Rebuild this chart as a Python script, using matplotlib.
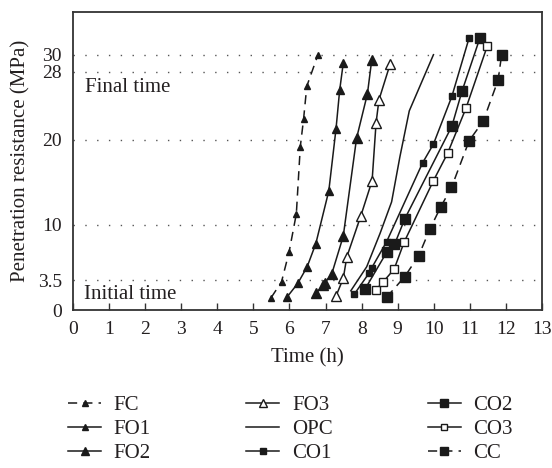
import matplotlib.pyplot as plt

plt.rcParams['font.family'] = ['Liberation Serif', 'DejaVu Serif']
color_txt = '#231f20'

# Datos (tiempo en h, resistencia en MPa)
fc_t = [5.49, 5.78, 5.99, 6.19, 6.30, 6.39, 6.48, 6.79]
fc_r = [1.44, 3.32, 6.83, 11.3, 19.2, 22.4, 26.3, 30.0]

fo1_t = [5.94, 6.23, 6.49, 6.73, 7.09, 7.29, 7.39, 7.49]
fo1_r = [1.56, 3.13, 5.08, 7.8, 14.0, 21.3, 25.8, 29.0]

fo2_t = [6.73, 6.94, 6.98, 7.17, 7.49, 7.86, 8.16, 8.28]
fo2_r = [1.95, 2.93, 3.2, 4.22, 8.67, 20.2, 25.4, 29.4]

fo3_t = [7.29, 7.49, 7.59, 7.98, 8.29, 8.40, 8.48, 8.79]
fo3_r = [1.64, 3.71, 6.25, 11.1, 15.2, 22.0, 24.7, 28.9]

opc_t = [7.70, 8.14, 8.51, 8.83, 9.06, 9.32, 9.99]
opc_r = [2.26, 5.08, 9.0, 12.7, 18.0, 23.4, 30.0]

co1_t = [7.80, 8.20, 8.28, 8.69, 9.69, 9.99, 10.50, 10.98]
co1_r = [1.88, 4.30, 4.96, 8.01, 17.3, 19.5, 25.1, 32.0]

co2_t = [8.09, 8.69, 8.91, 9.20, 10.50, 10.78, 11.28]
co2_r = [2.43, 6.76, 7.70, 10.75, 21.6, 25.7, 32.0]

co3_t = [8.39, 8.60, 8.90, 9.18, 9.99, 10.38, 10.89, 11.48]
co3_r = [2.34, 3.32, 4.8, 8.0, 15.2, 18.4, 23.7, 31.0]

cc_t = [8.69, 9.19, 9.58, 9.89, 10.19, 10.49, 10.98, 11.37, 11.78, 11.88]
cc_r = [1.49, 3.9, 6.37, 9.5, 12.1, 14.4, 19.9, 22.2, 27.0, 30.0]

yticks = [0, 3.5, 10, 20, 28, 30]
ytick_labels = ['0', '3.5', '10', '20', '28', '30']

fig = plt.figure(figsize=(5.52, 4.68), dpi=100)
ax = fig.add_axes([0.1322, 0.3376, 0.8498, 0.6364])

# lineas de referencia punteadas
for yv in yticks[1:]:
    ax.axhline(yv, color='#555555', lw=1.0, ls=(0, (1, 7.5)), zorder=1)

k = dict(color='#1a1a1a', lw=1.1, zorder=3)
ax.plot(fc_t, fc_r, ls=(0, (6, 4)), marker='^', ms=5, label='FC', **k)
ax.plot(fo1_t, fo1_r, ls='-', marker='^', ms=6, label='FO1', **k)
ax.plot(fo2_t, fo2_r, ls='-', marker='^', ms=7.5, label='FO2', **k)
ax.plot(fo3_t, fo3_r, ls='-', marker='^', ms=7, mfc='white', label='FO3', **k)
ax.plot(opc_t, opc_r, ls='-', label='OPC', **k)
ax.plot(co1_t, co1_r, ls='-', marker='s', ms=5, label='CO1', **k)
ax.plot(co2_t, co2_r, ls='-', marker='s', ms=6.5, label='CO2', **k)
ax.plot(co3_t, co3_r, ls='-', marker='s', ms=6, mfc='white', label='CO3', **k)
ax.plot(cc_t, cc_r, ls=(0, (6, 4)), marker='s', ms=6.5, label='CC', **k)

ax.text(0.33, 26.1, 'Final time', fontsize=15, color=color_txt, va='center')
ax.text(0.3, 1.8, 'Initial time', fontsize=15, color=color_txt, va='center')

ax.set_xlim(0, 13)
ax.set_ylim(0, 35)
ax.set_xticks(range(0, 14))
ax.set_yticks(yticks)
ax.set_yticklabels(ytick_labels)
ax.tick_params(axis='x', direction='in', length=5, width=1, colors='#333333',
               labelcolor=color_txt, labelsize=14, pad=8)
ax.tick_params(axis='y', length=0, labelcolor=color_txt, labelsize=14, pad=8)
for s in ax.spines.values():
    s.set_color('#333333')
    s.set_linewidth(1.3)

ax.set_xlabel('Time (h)', fontsize=15, color=color_txt, labelpad=7)
ax.set_ylabel('Penetration resistance (MPa)', fontsize=15, color=color_txt, labelpad=5)

fig.legend(loc='upper left', bbox_to_anchor=(0.089, 0.195), ncol=3,
           frameon=False, fontsize=15, handlelength=1.6, columnspacing=4.57,
           labelspacing=0.22, handletextpad=0.6, labelcolor=color_txt,
           borderpad=0.4, markerscale=0.8)

plt.savefig('out.png', dpi=100)
